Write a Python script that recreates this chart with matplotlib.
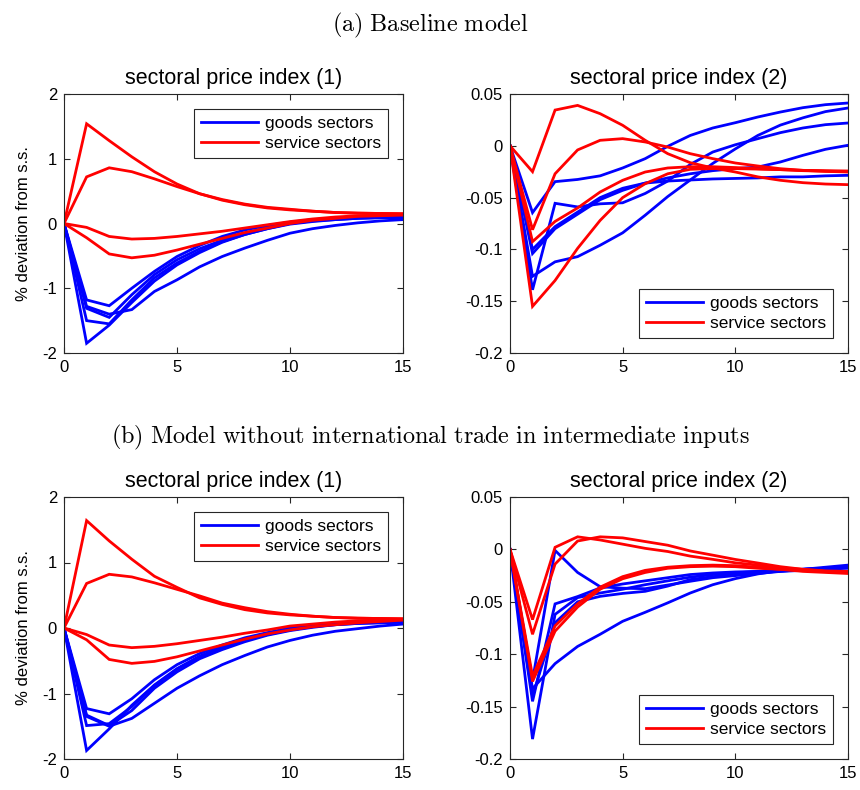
import matplotlib
matplotlib.use("Agg")
import matplotlib.pyplot as plt
from matplotlib.ticker import FuncFormatter

plt.rcParams["font.family"] = ["Liberation Sans", "DejaVu Sans"]
plt.rcParams["axes.unicode_minus"] = False
plt.rcParams["mathtext.fontset"] = "cm"

periods = list(range(16))

# (a) Baseline model -- sectoral price index (1)
a1_goods = [
    [0, -1.85, -1.57, -1.22, -0.89, -0.64, -0.45, -0.29, -0.17, -0.08, -0.01, 0.03, 0.06, 0.08, 0.09, 0.10],
    [0, -1.18, -1.27, -1.00, -0.74, -0.51, -0.34, -0.20, -0.10, -0.03, 0.02, 0.06, 0.08, 0.09, 0.10, 0.11],
    [0, -1.31, -1.45, -1.10, -0.79, -0.56, -0.39, -0.26, -0.15, -0.06, 0.01, 0.05, 0.07, 0.09, 0.10, 0.10],
    [0, -1.50, -1.55, -1.18, -0.84, -0.61, -0.43, -0.28, -0.17, -0.08, 0.00, 0.04, 0.06, 0.08, 0.09, 0.09],
    [0, -1.28, -1.40, -1.33, -1.05, -0.87, -0.67, -0.51, -0.38, -0.26, -0.15, -0.08, -0.03, 0.01, 0.04, 0.06],
]
a1_services = [
    [0, 1.54, 1.28, 1.03, 0.80, 0.61, 0.46, 0.36, 0.29, 0.24, 0.21, 0.19, 0.17, 0.16, 0.155, 0.15],
    [0, 0.72, 0.86, 0.80, 0.69, 0.57, 0.46, 0.37, 0.30, 0.25, 0.22, 0.19, 0.17, 0.16, 0.155, 0.15],
    [0, -0.06, -0.20, -0.24, -0.23, -0.20, -0.16, -0.12, -0.07, -0.02, 0.03, 0.07, 0.10, 0.12, 0.13, 0.14],
    [0, -0.22, -0.47, -0.53, -0.49, -0.41, -0.32, -0.23, -0.14, -0.07, 0.00, 0.05, 0.08, 0.11, 0.12, 0.13],
]

# (a) Baseline model -- sectoral price index (2)
a2_goods = [
    [0, -0.0645, -0.0346, -0.0325, -0.029, -0.0214, -0.0124, -0.0005, 0.010, 0.0172, 0.0223, 0.0278, 0.0326, 0.0368, 0.0397, 0.0413],
    [0, -0.126, -0.112, -0.107, -0.096, -0.084, -0.067, -0.049, -0.033, -0.017, -0.003, 0.010, 0.020, 0.027, 0.033, 0.0365],
    [0, -0.139, -0.0555, -0.059, -0.056, -0.055, -0.046, -0.034, -0.018, -0.006, 0.001, 0.0069, 0.0127, 0.0172, 0.0204, 0.022],
    [0, -0.104, -0.080, -0.066, -0.052, -0.043, -0.036, -0.031, -0.027, -0.024, -0.022, -0.0205, -0.0156, -0.0092, -0.0034, 0.0005],
    [0, -0.100, -0.078, -0.064, -0.050, -0.041, -0.036, -0.034, -0.033, -0.032, -0.0315, -0.031, -0.030, -0.030, -0.029, -0.0285],
]
a2_services = [
    [0, -0.025, 0.0345, 0.039, 0.031, 0.0198, 0.0053, -0.0076, -0.0163, -0.0214, -0.0253, -0.030, -0.0333, -0.0356, -0.0369, -0.0375],
    [0, -0.081, -0.027, -0.004, 0.0053, 0.0069, 0.0037, -0.0012, -0.0076, -0.0124, -0.0166, -0.0195, -0.0221, -0.0237, -0.0247, -0.0253],
    [0, -0.0925, -0.073, -0.060, -0.0446, -0.0333, -0.0253, -0.0214, -0.0202, -0.0202, -0.021, -0.0221, -0.023, -0.0237, -0.024, -0.0243],
    [0, -0.155, -0.130, -0.099, -0.072, -0.050, -0.0366, -0.027, -0.0227, -0.022, -0.022, -0.0225, -0.023, -0.024, -0.0245, -0.025],
]

# (b) No trade in intermediates -- sectoral price index (1)
b1_goods = [
    [0, -1.87, -1.54, -1.18, -0.87, -0.62, -0.43, -0.29, -0.18, -0.09, -0.02, 0.03, 0.06, 0.08, 0.09, 0.10],
    [0, -1.23, -1.31, -1.08, -0.79, -0.56, -0.39, -0.26, -0.15, -0.07, 0.00, 0.04, 0.07, 0.08, 0.09, 0.10],
    [0, -1.33, -1.49, -1.26, -0.92, -0.67, -0.47, -0.33, -0.21, -0.11, -0.04, 0.01, 0.05, 0.07, 0.08, 0.09],
    [0, -1.49, -1.46, -1.20, -0.88, -0.63, -0.44, -0.30, -0.19, -0.10, -0.03, 0.02, 0.05, 0.07, 0.08, 0.09],
    [0, -1.35, -1.50, -1.38, -1.15, -0.92, -0.73, -0.56, -0.42, -0.29, -0.19, -0.11, -0.05, -0.01, 0.03, 0.06],
]
b1_services = [
    [0, 1.64, 1.33, 1.05, 0.79, 0.62, 0.46, 0.36, 0.28, 0.23, 0.20, 0.18, 0.16, 0.15, 0.145, 0.14],
    [0, 0.68, 0.82, 0.78, 0.69, 0.59, 0.49, 0.38, 0.31, 0.25, 0.21, 0.18, 0.16, 0.15, 0.145, 0.14],
    [0, -0.10, -0.26, -0.30, -0.28, -0.24, -0.19, -0.14, -0.08, -0.03, 0.03, 0.06, 0.09, 0.11, 0.12, 0.13],
    [0, -0.18, -0.48, -0.54, -0.51, -0.44, -0.35, -0.26, -0.17, -0.09, -0.03, 0.02, 0.05, 0.08, 0.10, 0.12],
]

# (b) No trade in intermediates -- sectoral price index (2)
b2_goods = [
    [0, -0.125, -0.001, -0.022, -0.0356, -0.037, -0.0375, -0.034, -0.0304, -0.027, -0.025, -0.023, -0.021, -0.019, -0.017, -0.015],
    [0, -0.145, -0.052, -0.045, -0.0368, -0.033, -0.030, -0.027, -0.024, -0.0225, -0.0215, -0.021, -0.020, -0.019, -0.018, -0.017],
    [0, -0.181, -0.062, -0.046, -0.0416, -0.038, -0.0337, -0.030, -0.0265, -0.024, -0.0224, -0.021, -0.020, -0.019, -0.018, -0.017],
    [0, -0.140, -0.070, -0.050, -0.0448, -0.042, -0.040, -0.035, -0.0288, -0.026, -0.024, -0.022, -0.021, -0.020, -0.019, -0.018],
    [0, -0.133, -0.109, -0.0926, -0.081, -0.0686, -0.060, -0.051, -0.0416, -0.0337, -0.0279, -0.0234, -0.0202, -0.019, -0.018, -0.017],
]
b2_services = [
    [0, -0.067, 0.002, 0.012, 0.009, 0.005, 0.001, -0.002, -0.0064, -0.0095, -0.0128, -0.015, -0.0176, -0.019, -0.021, -0.022],
    [0, -0.081, -0.014, 0.008, 0.012, 0.011, 0.0075, 0.004, -0.0015, -0.0055, -0.0096, -0.013, -0.0165, -0.019, -0.0205, -0.021],
    [0, -0.121, -0.073, -0.052, -0.036, -0.026, -0.020, -0.017, -0.0155, -0.015, -0.0155, -0.017, -0.019, -0.020, -0.021, -0.022],
    [0, -0.126, -0.078, -0.055, -0.038, -0.028, -0.022, -0.018, -0.0165, -0.016, -0.0165, -0.018, -0.019, -0.021, -0.022, -0.023],
]

titles = ["sectoral price index (1)", "sectoral price index (2)"]
section_titles = [r"$\mathrm{(a)\ Baseline\ model}$",
                  r"$\mathrm{(b)\ Model\ without\ international\ trade\ in\ intermediate\ inputs}$"]
legend_labels = ["goods sectors", "service sectors"]
ylabel_text = "% deviation from s.s."
xticks = [0, 5, 10, 15]
yticks_1 = [-2, -1, 0, 1, 2]
yticks_2a = [-0.2, -0.15, -0.1, -0.05, 0, 0.05]
yticks_2b = [-0.2, -0.15, -0.1, -0.05, 0, 0.05]

W, H = 860, 790
fig = plt.figure(figsize=(W / 100, H / 100), dpi=100)


def px_axes(x0, y0, x1, y1):
    return fig.add_axes([x0 / W, 1 - y1 / H, (x1 - x0) / W, (y1 - y0) / H])


axes = [
    px_axes(64, 94, 403, 353),
    px_axes(510, 94, 848, 353),
    px_axes(64, 497, 403, 759),
    px_axes(510, 497, 848, 759),
]

panels = [
    (a1_goods, a1_services, yticks_1, (-2, 2), "upper right", 0),
    (a2_goods, a2_services, yticks_2a, (-0.2, 0.05), "lower right", 1),
    (b1_goods, b1_services, yticks_1, (-2, 2), "upper right", 0),
    (b2_goods, b2_services, yticks_2b, (-0.2, 0.05), "lower right", 1),
]

fmt = FuncFormatter(lambda v, p: "%g" % round(v, 4))

for ax, (goods, services, yt, ylim, loc, k) in zip(axes, panels):
    g_handle = r_handle = None
    for s in goods:
        (g_handle,) = ax.plot(periods, s, color="#0000ff", lw=2.0, solid_joinstyle="miter")
    for s in services:
        (r_handle,) = ax.plot(periods, s, color="#ff0000", lw=2.0, solid_joinstyle="miter")
    ax.set_xlim(0, 15)
    ax.set_ylim(*ylim)
    ax.set_xticks(xticks)
    ax.set_yticks(yt)
    ax.yaxis.set_major_formatter(fmt)
    ax.tick_params(direction="in", length=4, width=0.8, top=True, right=True,
                   labelsize=12, colors="#262626", labelcolor="black", pad=5)
    for sp in ax.spines.values():
        sp.set_color("#262626")
        sp.set_linewidth(0.8)
    ax.set_title(titles[k], fontsize=15.5, pad=7)
    leg = ax.legend([g_handle, r_handle], legend_labels, loc=loc, fontsize=12.5,
                    fancybox=False, framealpha=1, edgecolor="#262626",
                    handlelength=3.3, borderaxespad=0.85, borderpad=0.4,
                    labelspacing=0.3, handletextpad=0.4)
    leg.get_frame().set_linewidth(0.8)
    if k == 0:
        ax.set_ylabel(ylabel_text, fontsize=12, labelpad=8)

fig.text(430 / W, 1 - 25 / H, section_titles[0], ha="center", va="center", fontsize=17.4)
fig.text(430 / W, 1 - 437 / H, section_titles[1], ha="center", va="center", fontsize=17.4)

fig.savefig("out.png", dpi=100)
